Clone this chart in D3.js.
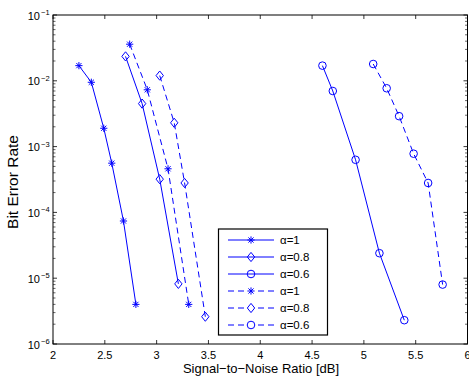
<!DOCTYPE html>
<html>
  <head>
    <script src="https://d3js.org/d3.v7.min.js"></script>
    <style>
      body { margin: 0; background: #fff; }
      text { font-family: "Liberation Sans", Arial, sans-serif; fill: #000; }
    </style>
  </head>
  <body>
    <div id="chart"></div>
    <script>
      // values
      const snr1 = [2.25, 2.37, 2.49, 2.567, 2.68, 2.80];
      const ber1 = [0.017, 0.0095, 0.0019, 5.6e-4, 7.4e-5, 4e-6];
      const snr2 = [2.70, 2.86, 3.03, 3.21];
      const ber2 = [0.0235, 0.0045, 3.2e-4, 8.2e-6];
      const snr3 = [4.60, 4.70, 4.92, 5.15, 5.39];
      const ber3 = [0.017, 0.007, 6.3e-4, 2.4e-5, 2.3e-6];
      const snr4 = [2.74, 2.91, 3.11, 3.31];
      const ber4 = [0.036, 0.0073, 4.6e-4, 4e-6];
      const snr5 = [3.03, 3.17, 3.27, 3.47];
      const ber5 = [0.012, 0.0023, 2.8e-4, 2.6e-6];
      const snr6 = [5.09, 5.22, 5.34, 5.48, 5.62, 5.76];
      const ber6 = [0.018, 0.0077, 0.0029, 7.8e-4, 2.8e-4, 8e-6];

      const labels = ["α=1", "α=0.8", "α=0.6", "α=1", "α=0.8", "α=0.6"];
      const markers = ["star", "diamond", "circle", "star", "diamond", "circle"];
      const dashed = [false, false, false, true, true, true];
      const xTicks = [2, 2.5, 3, 3.5, 4, 4.5, 5, 5.5, 6];
      const yExps = [-1, -2, -3, -4, -5, -6];

      const series = [
        [snr1, ber1], [snr2, ber2], [snr3, ber3],
        [snr4, ber4], [snr5, ber5], [snr6, ber6]
      ];

      const W = 469, H = 380;
      const pL = 53, pR = 467.5, pT = 15, pB = 344;
      const blue = "#0000ff";

      const svg = d3.select("#chart").append("svg")
        .attr("width", W).attr("height", H);

      const x = d3.scaleLinear().domain([2, 6]).range([pL, pR]);
      const y = d3.scaleLog().domain([1e-6, 1e-1]).range([pB, pT]);

      // minor ticks on log axis
      const minor = [];
      for (let e = -6; e < -1; e++) {
        for (let m = 2; m <= 9; m++) minor.push(m * Math.pow(10, e));
      }

      const axes = svg.append("g").attr("stroke", "#000").attr("fill", "none");
      axes.selectAll("line.xt").data(xTicks).join("line")
        .attr("x1", d => x(d)).attr("x2", d => x(d))
        .attr("y1", pB).attr("y2", pB - 4).attr("stroke-width", 0.8);
      axes.selectAll("line.xtt").data(xTicks).join("line")
        .attr("x1", d => x(d)).attr("x2", d => x(d))
        .attr("y1", pT).attr("y2", pT + 4).attr("stroke-width", 0.8);
      const yMajor = yExps.map(e => Math.pow(10, e));
      axes.selectAll("line.yl").data(yMajor).join("line")
        .attr("x1", pL).attr("x2", pL + 4)
        .attr("y1", d => y(d)).attr("y2", d => y(d)).attr("stroke-width", 0.8);
      axes.selectAll("line.yr").data(yMajor).join("line")
        .attr("x1", pR).attr("x2", pR - 4)
        .attr("y1", d => y(d)).attr("y2", d => y(d)).attr("stroke-width", 0.8);
      axes.selectAll("line.ml").data(minor).join("line")
        .attr("x1", pL).attr("x2", pL + 2.5)
        .attr("y1", d => y(d)).attr("y2", d => y(d)).attr("stroke-width", 0.6);
      axes.selectAll("line.mr").data(minor).join("line")
        .attr("x1", pR).attr("x2", pR - 2.5)
        .attr("y1", d => y(d)).attr("y2", d => y(d)).attr("stroke-width", 0.6);
      axes.append("rect")
        .attr("x", pL).attr("y", pT)
        .attr("width", pR - pL).attr("height", pB - pT)
        .attr("stroke-width", 1);

      // tick labels
      svg.selectAll("text.xl").data(xTicks).join("text")
        .attr("x", d => x(d)).attr("y", 358.5)
        .attr("text-anchor", "middle").attr("font-size", 11)
        .text(d => d);
      svg.selectAll("text.yl").data(yExps).join("text")
        .attr("x", 40).attr("y", d => y(Math.pow(10, d)) + 4.5)
        .attr("text-anchor", "end").attr("font-size", 11)
        .text("10");
      svg.selectAll("text.ys").data(yExps).join("text")
        .attr("x", 41).attr("y", d => y(Math.pow(10, d)))
        .attr("font-size", 7.5)
        .text(d => "\u2212" + Math.abs(d));

      // axis titles
      svg.append("text")
        .attr("x", 261).attr("y", 373)
        .attr("text-anchor", "middle").attr("font-size", 13)
        .text("Signal\u2212to\u2212Noise Ratio [dB]");
      svg.append("text")
        .attr("transform", "translate(17.5,182) rotate(-90)")
        .attr("text-anchor", "middle").attr("font-size", 15.5)
        .text("Bit Error Rate");

      function drawMarker(g, type) {
        if (type === "star") {
          const r = 3.6, d = r * 0.72;
          g.append("path")
            .attr("d", `M${-r},0H${r}M0,${-r}V${r}M${-d},${-d}L${d},${d}M${-d},${d}L${d},${-d}`)
            .attr("stroke", blue).attr("stroke-width", 1).attr("fill", "none");
        } else if (type === "diamond") {
          const r = 4.6;
          g.append("path")
            .attr("d", `M0,${-r}L${r * 0.8},0L0,${r}L${-r * 0.8},0Z`)
            .attr("stroke", blue).attr("stroke-width", 1).attr("fill", "none");
        } else {
          g.append("circle").attr("r", 3.8)
            .attr("stroke", blue).attr("stroke-width", 1).attr("fill", "none");
        }
      }

      const line = d3.line().x(d => x(d[0])).y(d => y(d[1]));

      series.forEach((s, i) => {
        const pts = s[0].map((v, j) => [v, s[1][j]]);
        svg.append("path").datum(pts)
          .attr("d", line)
          .attr("fill", "none").attr("stroke", blue).attr("stroke-width", 1)
          .attr("stroke-dasharray", dashed[i] ? "6,4" : null);
        pts.forEach(p => {
          const g = svg.append("g").attr("transform", `translate(${x(p[0])},${y(p[1])})`);
          drawMarker(g, markers[i]);
        });
      });

      // legend
      const lx = 218.5, ly = 229, lw = 109, lh = 106;
      svg.append("rect").attr("x", lx).attr("y", ly).attr("width", lw).attr("height", lh)
        .attr("fill", "#fff").attr("stroke", "#000").attr("stroke-width", 1.2);
      labels.forEach((lab, i) => {
        const yy = 240 + i * 17;
        svg.append("line").attr("x1", 228).attr("x2", 274).attr("y1", yy).attr("y2", yy)
          .attr("stroke", blue).attr("stroke-width", 1)
          .attr("stroke-dasharray", dashed[i] ? "6,4" : null);
        const g = svg.append("g").attr("transform", `translate(251,${yy})`);
        if (dashed[i]) {
          g.append("rect").attr("x", -5).attr("y", -5).attr("width", 10).attr("height", 10).attr("fill", "#fff");
        }
        drawMarker(g, markers[i]);
        svg.append("text").attr("x", 280).attr("y", yy + 4)
          .attr("font-size", 11.5).text(lab);
      });
    </script>
  </body>
</html>
